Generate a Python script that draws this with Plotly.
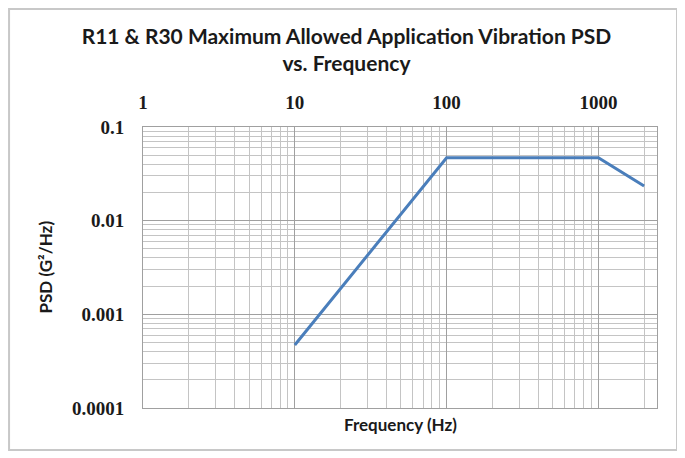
import plotly.graph_objects as go

freq = [10, 100, 1000, 2000]
psd = [0.00047, 0.047, 0.047, 0.0235]

x_major = [1, 10, 100, 1000]
x_major_text = ["1", "10", "100", "1000"]
x_minor = [m * d for d in [1, 10, 100] for m in range(2, 10)] + [2000]
y_major = [0.0001, 0.001, 0.01, 0.1]
y_major_text = ["0.0001", "0.001", "0.01", "0.1"]
y_minor = [m * d for d in [0.0001, 0.001, 0.01] for m in range(2, 10)]

fig = go.Figure()
fig.add_trace(go.Scatter(x=freq, y=psd, mode="lines",
                         line=dict(color="#4A7EBB", width=3), showlegend=False))

tickfont = dict(family="Liberation Serif", size=19, color="#1a1a1a", weight="bold")
fig.update_xaxes(type="log", range=[0, 3.386], side="top", automargin=False,
                 tickvals=x_major, ticktext=x_major_text, tickfont=tickfont,
                 showgrid=True, gridcolor="#a0a0a0", gridwidth=1,
                 minor=dict(tickvals=x_minor, showgrid=True, gridcolor="#c4c4c4", gridwidth=1, ticks=""),
                 showline=True, linecolor="#a0a0a0", mirror=True, ticks="", zeroline=False,
                 ticklabelstandoff=9, title=None)
fig.update_yaxes(type="log", range=[-4, -1], automargin=False,
                 tickvals=y_major, ticktext=y_major_text, tickfont=tickfont,
                 showgrid=True, gridcolor="#a0a0a0", gridwidth=1,
                 minor=dict(tickvals=y_minor, showgrid=True, gridcolor="#c4c4c4", gridwidth=1, ticks=""),
                 showline=True, linecolor="#a0a0a0", mirror=True, ticks="", zeroline=False,
                 ticklabelstandoff=14, title=None)

fig.update_layout(
    width=677, height=450,
    margin=dict(l=135, r=28, t=119, b=50),
    paper_bgcolor="#ffffff", plot_bgcolor="#ffffff",
    title=dict(text="<b>R11 & R30 Maximum Allowed Application Vibration PSD<br>vs. Frequency</b>",
               font=dict(family="Lato", size=21, color="#1a1a1a"),
               x=0.5, xanchor="center", y=0.92, yanchor="top"),
    annotations=[
        dict(text="<b>Frequency (Hz)</b>", xref="paper", yref="paper",
             x=0.5, y=0, yshift=-4, xanchor="center", yanchor="top", showarrow=False,
             font=dict(family="Lato", size=17, color="#1a1a1a")),
        dict(text="<b>PSD (G²/Hz)</b>", xref="paper", yref="paper",
             x=0, xshift=-98, y=0.5, xanchor="center", yanchor="middle", showarrow=False,
             textangle=-90, font=dict(family="Lato", size=17, color="#1a1a1a")),
    ],
    shapes=[dict(type="rect", xref="paper", yref="paper",
                 x0=-0.2606, x1=1.0389, y0=-0.1495, y1=1.4199,
                 line=dict(color="#c8c8c8", width=2), layer="below")],
)

fig.write_html("out.html")
